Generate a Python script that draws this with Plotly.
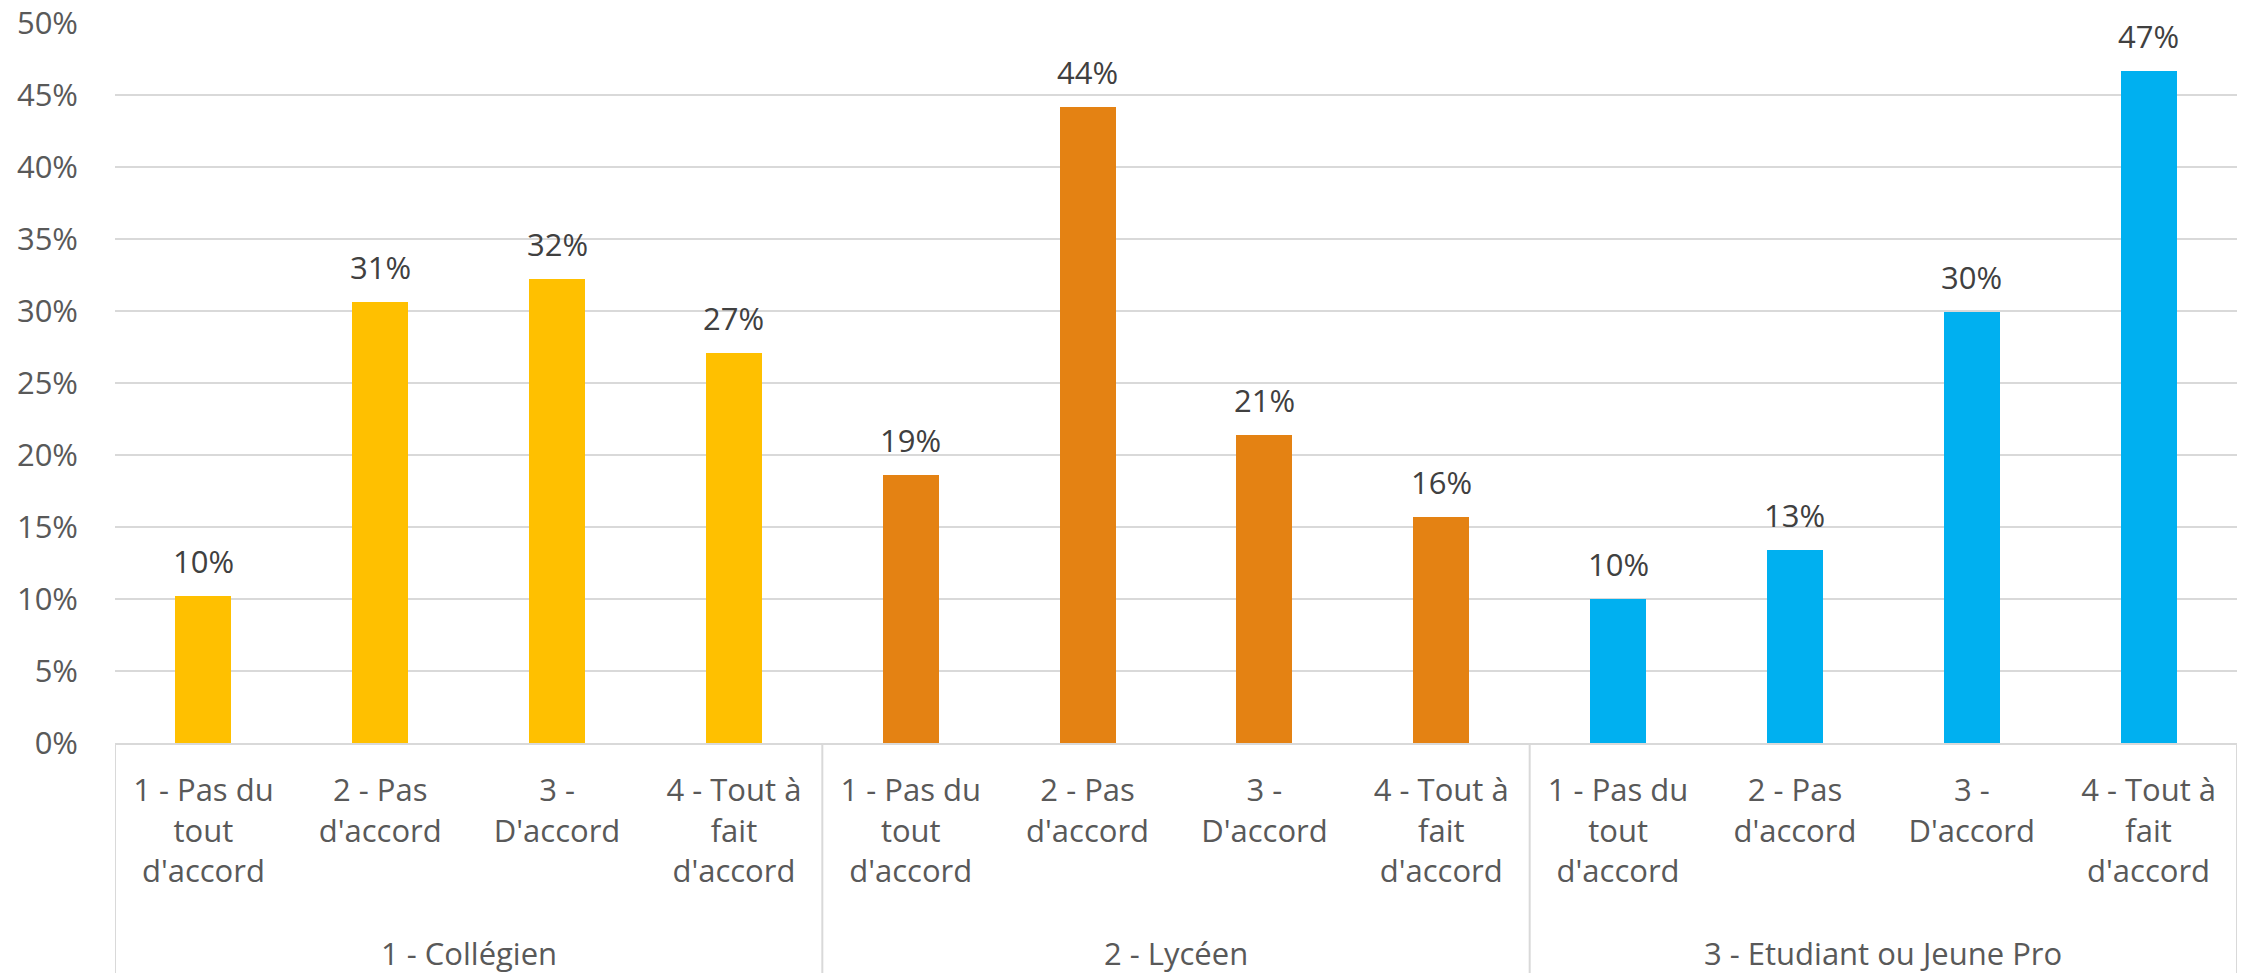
import plotly.graph_objects as go

groups = ["1 - Collégien", "2 - Lycéen", "3 - Etudiant ou Jeune Pro"]
categories = ["1 - Pas du<br>tout<br>d'accord", "2 - Pas<br>d'accord", "3 -<br>D'accord", "4 - Tout à<br>fait<br>d'accord"]
values_college = [0.102, 0.306, 0.322, 0.271]
values_lycee = [0.186, 0.442, 0.214, 0.157]
values_etud = [0.100, 0.134, 0.299, 0.467]
colors = ["#FFC000", "#E48213", "#00B0F0"]
y_ticks = [0, 0.05, 0.10, 0.15, 0.20, 0.25, 0.30, 0.35, 0.40, 0.45, 0.50]

series = [values_college, values_lycee, values_etud]
FONT = "Open Sans"

fig = go.Figure()
xs_all, ticktext = [], []
annotations = []
for gi, (vals, col) in enumerate(zip(series, colors)):
    xs = [gi * len(categories) + i for i in range(len(categories))]
    xs_all += xs
    ticktext += categories
    fig.add_trace(go.Bar(x=xs, y=vals, marker=dict(color=col, line=dict(width=0)),
                         width=0.317, showlegend=False, hoverinfo="skip"))
    for x, v in zip(xs, vals):
        annotations.append(dict(x=x, y=v, xref="x", yref="y", text=f"{round(v*100):.0f}%",
                                showarrow=False, yanchor="bottom", yshift=12,
                                font=dict(family=FONT, size=31, color="#404040")))
    annotations.append(dict(x=(xs[0] + xs[-1]) / 2, y=-0.292, xref="x", yref="paper",
                            text=groups[gi], showarrow=False, yanchor="middle",
                            font=dict(family=FONT, size=31, color="#595959")))

n = len(xs_all)
shapes = []
for b in range(0, n + 1, len(categories)):
    shapes.append(dict(type="line", xref="x", yref="paper", x0=b - 0.5, x1=b - 0.5,
                       y0=0, y1=-0.33, line=dict(color="#D9D9D9", width=2)))

fig.update_layout(
    width=2246, height=973,
    paper_bgcolor="white", plot_bgcolor="white",
    margin=dict(l=115, r=9, t=23, b=230, autoexpand=False),
    bargap=0,
    annotations=annotations,
    shapes=shapes,
    font=dict(family=FONT, size=31, color="#595959"),
    xaxis=dict(range=[-0.5, n - 0.5], tickvals=xs_all, ticktext=ticktext,
               showgrid=False, zeroline=False, showline=True, linecolor="#D9D9D9",
               linewidth=2, ticks="", ticklabelstandoff=19, automargin=False,
               tickfont=dict(family=FONT, size=31, color="#595959")),
    yaxis=dict(range=[0, 0.5], tickvals=y_ticks, tickformat=".0%",
               showgrid=True, gridcolor="#D9D9D9", gridwidth=2, zeroline=False,
               showline=False, ticks="", ticklabelstandoff=36, automargin=False,
               tickfont=dict(family=FONT, size=31, color="#595959")),
)

fig.write_html("out.html", config={"displayModeBar": False},
               post_script="document.body.style.margin='0';document.body.style.overflow='hidden';")
